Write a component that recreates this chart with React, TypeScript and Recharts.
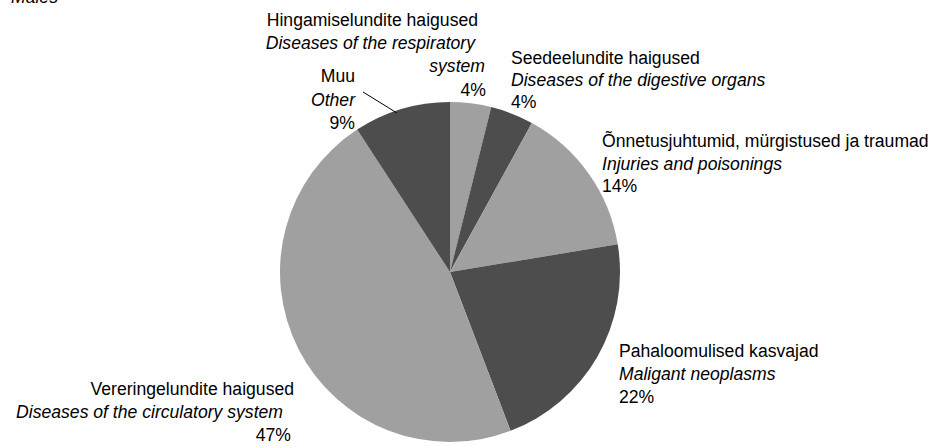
import React from 'react';
import { PieChart, Pie, Cell } from 'recharts';

// causes of death, males (share of total)
const causesEt = [
  'Hingamiselundite haigused',
  'Seedeelundite haigused',
  'Õnnetusjuhtumid, mürgistused ja traumad',
  'Pahaloomulised kasvajad',
  'Vereringelundite haigused',
  'Muu',
];
const causesEn = [
  'Diseases of the respiratory system',
  'Diseases of the digestive organs',
  'Injuries and poisonings',
  'Maligant neoplasms',
  'Diseases of the circulatory system',
  'Other',
];
const shares = [3.9, 4.1, 14.4, 21.8, 46.6, 9.2];

const LIGHT = '#a0a0a0';
const DARK = '#4d4d4d';
const sliceColors = [LIGHT, DARK, LIGHT, DARK, LIGHT, DARK];

const chartData = causesEt.map((name, i) => ({ name, en: causesEn[i], value: shares[i] }));

// label placement, offsets from the pie centre (x per line, baseline y per line)
type LineLayout = { dx: number; dy: number; anchor: 'start' | 'middle' | 'end' };
const labelLayout: LineLayout[][] = [
  [
    { dx: 28, dy: -246, anchor: 'end' },
    { dx: 25, dy: -223, anchor: 'end' },
    { dx: 35, dy: -200, anchor: 'end' },
    { dx: 36, dy: -176, anchor: 'end' },
  ],
  [
    { dx: 61, dy: -208, anchor: 'start' },
    { dx: 61, dy: -186, anchor: 'start' },
    { dx: 61, dy: -164, anchor: 'start' },
  ],
  [
    { dx: 152, dy: -125, anchor: 'start' },
    { dx: 152, dy: -102, anchor: 'start' },
    { dx: 152, dy: -80, anchor: 'start' },
  ],
  [
    { dx: 169, dy: 85, anchor: 'start' },
    { dx: 169, dy: 108, anchor: 'start' },
    { dx: 169, dy: 131, anchor: 'start' },
  ],
  [
    { dx: -156, dy: 123, anchor: 'end' },
    { dx: -167, dy: 146, anchor: 'end' },
    { dx: -159, dy: 169, anchor: 'end' },
  ],
  [
    { dx: -95, dy: -190, anchor: 'end' },
    { dx: -95, dy: -166, anchor: 'end' },
    { dx: -95, dy: -143, anchor: 'end' },
  ],
];

const FONT = '"Liberation Sans", Arial, sans-serif';
const FONT_SIZE = 17.6;

const renderLabel = (props: any) => {
  const { cx, cy, index, percent } = props;
  const layout = labelLayout[index];
  const pct = `${Math.round(percent * 100)}%`;
  let lines: { text: string; italic: boolean }[];
  if (index === 0) {
    // the english text wraps onto two lines here
    lines = [
      { text: causesEt[0], italic: false },
      { text: 'Diseases of the respiratory', italic: true },
      { text: 'system', italic: true },
      { text: pct, italic: false },
    ];
  } else {
    lines = [
      { text: causesEt[index], italic: false },
      { text: causesEn[index], italic: true },
      { text: pct, italic: false },
    ];
  }
  return (
    <g key={`lbl-${index}`}>
      {index === 5 && (
        <line x1={cx - 87} y1={cy - 180} x2={cx - 53} y2={cy - 159} stroke="#000" strokeWidth={1} />
      )}
      {lines.map((ln, j) => (
        <text
          key={j}
          x={cx + layout[j].dx}
          y={cy + layout[j].dy}
          textAnchor={layout[j].anchor}
          fontFamily={FONT}
          fontSize={FONT_SIZE}
          fontStyle={ln.italic ? 'italic' : 'normal'}
          fill="#000"
        >
          {ln.text}
        </text>
      ))}
    </g>
  );
};

export default function App() {
  return (
    <div style={{ position: 'relative', width: 936, height: 447, background: '#fff', overflow: 'hidden' }}>
      <style>{'body{margin:0}'}</style>
      <svg width={200} height={20} style={{ position: 'absolute', left: 0, top: 0 }}>
        <text x={11} y={3} fontFamily={FONT} fontSize={FONT_SIZE} fontStyle="italic" fill="#000">
          Males
        </text>
      </svg>
      <PieChart width={936} height={447} margin={{ top: 0, right: 0, bottom: 0, left: 0 }}>
        <Pie
          data={chartData}
          dataKey="value"
          nameKey="name"
          cx={450}
          cy={272}
          outerRadius={170}
          startAngle={90}
          endAngle={-270}
          stroke="none"
          label={renderLabel}
          labelLine={false}
          isAnimationActive={false}
        >
          {chartData.map((d, i) => (
            <Cell key={d.name} fill={sliceColors[i]} />
          ))}
        </Pie>
      </PieChart>
    </div>
  );
}
